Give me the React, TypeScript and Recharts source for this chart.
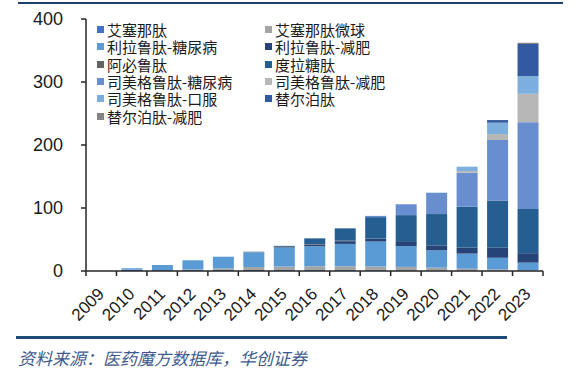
import React from "react"
import { BarChart, Bar, XAxis, YAxis } from "recharts"

// 单位：亿美元
const years = ["2009", "2010", "2011", "2012", "2013", "2014", "2015", "2016", "2017", "2018", "2019", "2020", "2021", "2022", "2023"]

const exenatide = [0, 2, 1.5, 1.5, 1.5, 1.5, 1.5, 1.5, 1.5, 1.2, 1, 0.8, 0.6, 0.5, 0.3]
const exenatideLar = [0, 0, 0, 1, 2.5, 5, 5.5, 6, 6, 6, 5.5, 4.5, 3, 2, 1]
const liraDiabetes = [0, 2.3, 8, 14.5, 18.7, 23.3, 30, 31.8, 35.5, 39.5, 33, 27.5, 24, 18.5, 12]
const liraObesity = [0, 0, 0, 0, 0, 0, 0.8, 2.5, 4.3, 4.6, 7.9, 7.9, 9.5, 15.9, 15]
const albiglutide = [0, 0, 0, 0, 0, 0.3, 0.6, 1, 0.8, 0.2, 0, 0, 0, 0, 0]
const dulaglutide = [0, 0, 0, 0, 0, 0.5, 1.5, 9, 19.6, 34, 41.3, 49.7, 65, 75, 70]
const semaDiabetes = [0, 0, 0, 0, 0, 0, 0, 0, 0, 2, 17.2, 33.5, 54, 96, 138]
const semaObesity = [0, 0, 0, 0, 0, 0, 0, 0, 0, 0, 0, 0, 2.7, 9.5, 45]
const semaOral = [0, 0, 0, 0, 0, 0, 0, 0, 0, 0, 0.3, 0.5, 6.8, 18, 28]
const tirzepatide = [0, 0, 0, 0, 0, 0, 0, 0, 0, 0, 0, 0, 0, 4.2, 51]
const tirzObesity = [0, 0, 0, 0, 0, 0, 0, 0, 0, 0, 0, 0, 0, 0, 2]

const yTicks = [0, 100, 200, 300, 400]

const series = [
  { key: "exenatide", name: "艾塞那肽", color: "#4472C4", values: exenatide },
  { key: "exenatideLar", name: "艾塞那肽微球", color: "#A5A5A5", values: exenatideLar },
  { key: "liraDiabetes", name: "利拉鲁肽-糖尿病", color: "#5B9BD5", values: liraDiabetes },
  { key: "liraObesity", name: "利拉鲁肽-减肥", color: "#264478", values: liraObesity },
  { key: "albiglutide", name: "阿必鲁肽", color: "#636363", values: albiglutide },
  { key: "dulaglutide", name: "度拉糖肽", color: "#255E91", values: dulaglutide },
  { key: "semaDiabetes", name: "司美格鲁肽-糖尿病", color: "#698ED0", values: semaDiabetes },
  { key: "semaObesity", name: "司美格鲁肽-减肥", color: "#B7B7B7", values: semaObesity },
  { key: "semaOral", name: "司美格鲁肽-口服", color: "#7CAFDD", values: semaOral },
  { key: "tirzepatide", name: "替尔泊肽", color: "#335AA1", values: tirzepatide },
  { key: "tirzObesity", name: "替尔泊肽-减肥", color: "#848484", values: tirzObesity },
]

const data = years.map((year, i) => {
  const row: Record<string, number | string> = { year }
  series.forEach((s) => { row[s.key] = s.values[i] })
  return row
})

const W = 581
const CHART_H = 330
const M = { top: 19, right: 38, left: 0, bottom: 0 }
const Y_W = 86
const BAND = (W - M.right - Y_W) / years.length

const FONT = "'Liberation Sans', Arial, sans-serif"
const CJK = "'Noto Sans CJK SC', sans-serif"

function YearTick(props: any) {
  const { x, y, index } = props
  const axisY = y - 8
  const left = x - BAND / 2
  const tx = x + 4
  const ty = axisY + 24
  return (
    <g>
      <line x1={left} y1={axisY} x2={left} y2={axisY + 5} stroke="#262626" strokeWidth={1.5} />
      {index === years.length - 1 && (
        <line x1={x + BAND / 2} y1={axisY} x2={x + BAND / 2} y2={axisY + 5} stroke="#262626" strokeWidth={1.5} />
      )}
      <text x={tx} y={ty} textAnchor="end" fontSize={17} fontFamily={FONT} fill="#1a1a1a"
        transform={`rotate(-45, ${tx}, ${ty})`}>
        {props.payload.value}
      </text>
    </g>
  )
}

export default function App() {
  return (
    <div style={{ position: "absolute", left: 0, top: 0, width: W, height: 385, background: "#fff", overflow: "hidden" }}>
      <div style={{ position: "absolute", left: 18, top: 2, width: 545, height: 2, background: "#1F3F6E" }} />
      <BarChart width={W} height={CHART_H} data={data} margin={M} barSize={21}>
        <XAxis
          dataKey="year"
          axisLine={{ stroke: "#262626", strokeWidth: 1.5 }}
          tickLine={false}
          tickSize={5}
          tickMargin={3}
          height={59}
          interval={0}
          tick={<YearTick />}
        />
        <YAxis
          width={Y_W}
          domain={[0, 400]}
          ticks={yTicks}
          interval={0}
          axisLine={{ stroke: "#262626", strokeWidth: 1.5 }}
          tickLine={{ stroke: "#262626", strokeWidth: 1.5 }}
          tickSize={5}
          tickMargin={18}
          tick={{ fontSize: 18, fill: "#1a1a1a", fontFamily: FONT }}
        />
        {series.map((s) => (
          <Bar key={s.key} dataKey={s.key} name={s.name} stackId="a" fill={s.color} isAnimationActive={false} />
        ))}
      </BarChart>
      <div style={{
        position: "absolute", left: 97, top: 21, display: "grid",
        gridTemplateColumns: "168px 180px", gridAutoRows: "17.3px",
        fontFamily: CJK, fontSize: 15, color: "#1a1a1a",
      }}>
        {series.map((s) => (
          <div key={s.key} style={{ display: "flex", alignItems: "center", whiteSpace: "nowrap", height: 17.3 }}>
            <span style={{ width: 7, height: 7, background: s.color, marginRight: 3, flex: "none" }} />
            <span style={{ display: "inline-block", height: 15, lineHeight: "15px", overflow: "visible" }}>{s.name}</span>
          </div>
        ))}
      </div>
      <div style={{ position: "absolute", left: 16, top: 336, width: 491, height: 3, background: "#1E4A7A" }} />
      <div style={{
        position: "absolute", left: 18, top: 348, fontFamily: CJK, fontSize: 17,
        fontStyle: "italic", color: "#3E5A8C", whiteSpace: "nowrap", lineHeight: "20px",
      }}>
        资料来源：医药魔方数据库，华创证券
      </div>
    </div>
  )
}
